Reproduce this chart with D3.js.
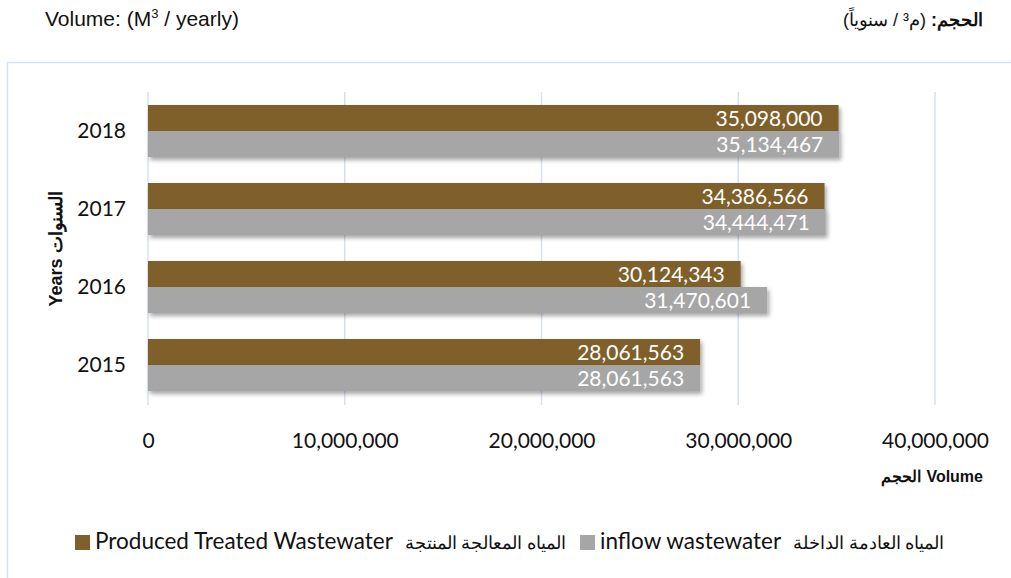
<!DOCTYPE html>
<html>
<head>
<meta charset="utf-8">
<script src="https://cdn.jsdelivr.net/npm/d3@7"></script>
<style>
  body { margin: 0; background: #fff; }
  svg { display: block; }
</style>
</head>
<body>
<div id="chart"></div>
<script>
var years = ['2015', '2016', '2017', '2018'];
var produced = [28061563, 30124343, 34386566, 35098000];
var inflow = [28061563, 31470601, 34444471, 35134467];
var xTicks = [0, 10000000, 20000000, 30000000, 40000000];
var seriesNames = [
  {en: 'Produced Treated Wastewater', ar: 'المياه المعالجة المنتجة'},
  {en: 'inflow wastewater', ar: 'المياه العادمة الداخلة'}
];
var colors = ['#7f5f2b', '#a6a6a6'];

var W = 1011, H = 578;
var calibri = 'Lato, "Open Sans", sans-serif';
var arial = '"Liberation Sans", Arial, sans-serif';

var svg = d3.select('#chart').append('svg')
  .attr('width', W).attr('height', H);

var defs = svg.append('defs');
defs.append('filter')
  .attr('id', 'shadow')
  .attr('x', '-5%').attr('y', '-20%').attr('width', '110%').attr('height', '160%')
  .append('feDropShadow')
  .attr('dx', 2).attr('dy', 3).attr('stdDeviation', 2)
  .attr('flood-color', '#000').attr('flood-opacity', 0.35);

// chart frame (runs off the page to the right and bottom)
svg.append('rect')
  .attr('x', 7.5).attr('y', 62.5).attr('width', 1100).attr('height', 600)
  .attr('fill', 'none').attr('stroke', '#d5e1f1').attr('stroke-width', 1.5);

// header texts
var head = svg.append('text')
  .attr('x', 45).attr('y', 26)
  .style('font-family', arial).style('font-size', '21px').attr('fill', '#111');
head.append('tspan').text('Volume: (M');
head.append('tspan').text('3').style('font-size', '13px').attr('dy', -8);
head.append('tspan').text(' / yearly)').attr('dy', 8);

var headAr = svg.append('text')
  .attr('x', 983).attr('y', 26)
  .attr('direction', 'rtl').attr('text-anchor', 'start')
  .style('font-family', arial).style('font-size', '18px').attr('fill', '#111');
headAr.append('tspan').text('الحجم: ').style('font-weight', 'bold');
headAr.append('tspan').text(' (م³ / سنوياً)');

var x = d3.scaleLinear().domain([0, 40000000]).range([148, 935]);
var y = d3.scaleBand().domain(years.slice().reverse())
  .range([92, 404]).paddingInner(1 / 3).paddingOuter(1 / 6);
var half = y.bandwidth() / 2;

// gridlines
svg.append('g').selectAll('line').data(xTicks).enter().append('line')
  .attr('x1', function(d){ return x(d); }).attr('x2', function(d){ return x(d); })
  .attr('y1', 92).attr('y2', 405)
  .attr('stroke', '#d5e1f1').attr('stroke-width', 1.5);

// x axis labels
var xAxis = d3.axisBottom(x).tickValues(xTicks).tickFormat(d3.format(',')).tickSize(0).tickPadding(0);
var gx = svg.append('g').attr('transform', 'translate(0,433)').call(xAxis);
gx.select('.domain').remove();
gx.selectAll('text')
  .attr('dy', '0.71em')
  .style('font-family', calibri).style('font-size', '21px').attr('fill', '#111');

// y axis labels
var yAxis = d3.axisLeft(y).tickSize(0).tickPadding(0);
var gy = svg.append('g').attr('transform', 'translate(126,0)').call(yAxis);
gy.select('.domain').remove();
gy.selectAll('text')
  .style('font-family', calibri).style('font-size', '21px').attr('fill', '#111');

// bars
var series = [produced, inflow];
series.forEach(function(vals, si){
  var g = svg.append('g');
  g.selectAll('rect').data(years).enter().append('rect')
    .attr('x', x(0))
    .attr('y', function(d){ return y(d) + si * half; })
    .attr('width', function(d, i){ return x(vals[i]) - x(0); })
    .attr('height', half)
    .attr('fill', colors[si])
    .attr('filter', 'url(#shadow)');
});
series.forEach(function(vals, si){
  svg.append('g').selectAll('text').data(years).enter().append('text')
    .attr('x', function(d, i){ return x(vals[i]) - 16; })
    .attr('y', function(d){ return y(d) + si * half + half / 2 + 8; })
    .attr('text-anchor', 'end')
    .style('font-family', calibri).style('font-size', '21px')
    .attr('fill', '#fff')
    .text(function(d, i){ return d3.format(',')(vals[i]); });
});

// axis titles
svg.append('text')
  .attr('transform', 'translate(62,249) rotate(-90)')
  .attr('text-anchor', 'middle')
  .style('font-family', arial).style('font-size', '18px').style('font-weight', 'bold')
  .attr('fill', '#111')
  .text('Years السنوات');

var vt = svg.append('text')
  .attr('x', 983).attr('y', 482)
  .attr('text-anchor', 'end')
  .style('font-family', arial).style('font-size', '16px').style('font-weight', 'bold')
  .attr('fill', '#111')
  .text('Volume');
svg.append('text')
  .attr('x', 983 - vt.node().getComputedTextLength() - 5).attr('y', 482)
  .attr('text-anchor', 'end')
  .style('font-family', arial).style('font-size', '16px').style('font-weight', 'bold')
  .attr('fill', '#111')
  .text('الحجم');

// legend
var lx = 75, ly = 549;
seriesNames.forEach(function(s, i){
  svg.append('rect')
    .attr('x', lx).attr('y', ly - 14).attr('width', 15).attr('height', 15)
    .attr('fill', colors[i]);
  lx += 20;
  var t1 = svg.append('text').attr('x', lx).attr('y', ly)
    .style('font-family', calibri).style('font-size', '22.5px').attr('fill', '#111')
    .text(s.en);
  lx += t1.node().getComputedTextLength() + 12;
  var t2 = svg.append('text').attr('x', lx).attr('y', ly)
    .style('font-family', calibri).style('font-size', '18px').attr('fill', '#111')
    .text(s.ar);
  lx += t2.node().getComputedTextLength() + 14;
});
</script>
</body>
</html>
